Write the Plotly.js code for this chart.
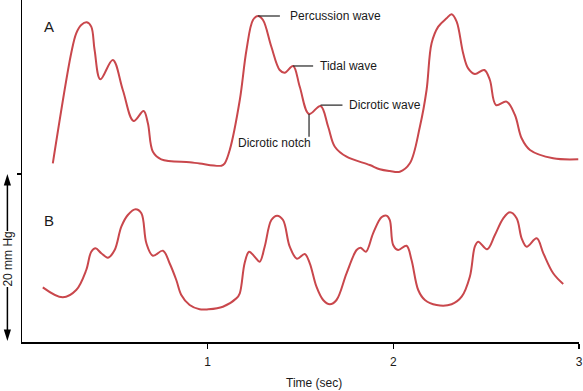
<!DOCTYPE html>
<html>
<head>
<meta charset="utf-8">
<script src="https://cdn.plot.ly/plotly-3.0.1.min.js"></script>
<style>html,body{margin:0;padding:0;background:#fff;}#chart{width:583px;height:391px;}</style>
</head>
<body>
<div id="chart"></div>
<script>
// Trace A (time in sec, pressure in mm Hg above baseline)
var timeA = [0.166,0.265,0.292,0.319,0.349,0.373,0.391,0.422,0.489,0.543,0.601,0.655,0.678,0.705,0.750,0.903,0.957,1.074,1.092,1.119,1.173,1.209,1.244,1.271,1.298,1.343,1.388,1.415,1.460,1.496,1.546,1.608,1.649,1.685,1.748,1.873,1.927,1.981,2.035,2.089,2.143,2.179,2.206,2.242,2.287,2.314,2.341,2.376,2.403,2.439,2.490,2.520,2.553,2.610,2.655,2.691,2.736,2.861,2.996];
var pressA = [21.27,34.37,36.75,37.74,38.06,37.54,34.76,31.27,33.57,30.00,26.31,27.50,26.04,22.65,21.75,21.40,21.25,20.99,21.27,22.86,28.81,34.76,38.33,38.81,38.33,35.15,32.38,32.06,32.86,30.39,27.14,28.10,25.63,23.25,22.06,21.07,20.56,20.35,20.27,21.27,25.63,30.00,35.56,37.54,38.54,39.01,38.13,34.37,32.58,31.90,32.38,31.19,28.21,28.61,27.02,24.25,22.86,21.87,21.75];
// Trace B
var timeB = [0.112,0.220,0.292,0.346,0.373,0.396,0.427,0.463,0.499,0.535,0.570,0.612,0.643,0.670,0.705,0.759,0.795,0.831,0.858,0.903,0.957,1.002,1.082,1.155,1.173,1.199,1.223,1.253,1.280,1.307,1.343,1.374,1.406,1.442,1.481,1.523,1.550,1.586,1.622,1.658,1.694,1.748,1.802,1.823,1.852,1.891,1.936,1.963,1.981,1.999,2.026,2.071,2.098,2.134,2.170,2.233,2.314,2.368,2.412,2.439,2.457,2.505,2.547,2.592,2.628,2.664,2.691,2.718,2.772,2.808,2.861,2.915];
var pressB = [6.51,5.32,6.19,8.57,10.75,11.15,10.56,10.04,10.95,13.73,15.12,15.80,15.32,11.75,10.27,10.87,9.37,7.38,5.60,4.40,3.89,3.89,4.20,5.20,5.80,9.37,10.75,10.15,9.56,11.35,14.52,15.04,14.52,11.35,9.92,10.48,9.37,6.58,5.00,4.49,5.00,8.18,10.95,11.23,10.75,12.94,14.85,15.04,14.52,11.55,10.95,11.46,9.76,6.19,5.00,4.40,4.49,5.39,7.77,11.35,11.94,11.04,12.74,14.73,15.44,14.73,12.35,11.35,12.35,10.56,8.18,6.90];

var xTicks = [1, 2, 3];
var xTickText = ['1', '2', '3'];
var scaleTick = [20];

var waveLabels = ['Percussion wave', 'Tidal wave', 'Dicrotic wave', 'Dicrotic notch'];
var waveTime = [1.271, 1.460, 1.608, 1.546];
var wavePress = [38.81, 32.86, 28.2, 27.14];

var FONT = '"Liberation Sans", Arial, Helvetica, sans-serif';
var RED = '#c9474c';
var INK = '#1a1a1a';
var L = 22, R = 4, T = 0, B = 49, W = 583, H = 391;
var PW = W - L - R, PH = H - T - B;
function px(xp) { return (xp - L) / PW; }
function py(yp) { return (PH + T - yp) / PH; }

var traces = [
  {x: timeA, y: pressA, mode: 'lines', line: {color: RED, width: 2, shape: 'spline', smoothing: 1}, hoverinfo: 'skip'},
  {x: timeB, y: pressB, mode: 'lines', line: {color: RED, width: 2, shape: 'spline', smoothing: 1}, hoverinfo: 'skip'}
];

var lc = '#333';
var shapes = [
  {type: 'line', xref: 'x', yref: 'y', x0: waveTime[0], x1: waveTime[0] + 0.118, y0: wavePress[0], y1: wavePress[0], line: {color: lc, width: 1.3}},
  {type: 'line', xref: 'x', yref: 'y', x0: waveTime[1], x1: waveTime[1] + 0.108, y0: wavePress[1], y1: wavePress[1], line: {color: lc, width: 1.3}},
  {type: 'line', xref: 'x', yref: 'y', x0: waveTime[2], x1: waveTime[2] + 0.118, y0: wavePress[2], y1: wavePress[2], line: {color: lc, width: 1.3}},
  {type: 'line', xref: 'x', yref: 'y', x0: waveTime[3], x1: waveTime[3], y0: wavePress[3], y1: wavePress[3] - 2.7, line: {color: lc, width: 1.3}},
  {type: 'line', xref: 'paper', yref: 'paper', x0: px(7.4), x1: px(7.4), y0: py(184), y1: py(231), line: {color: '#000', width: 1.5}},
  {type: 'line', xref: 'paper', yref: 'paper', x0: px(7.4), x1: px(7.4), y0: py(287), y1: py(331), line: {color: '#000', width: 1.5}},
  {type: 'path', xref: 'paper', yref: 'paper',
   path: 'M ' + px(7.4) + ' ' + py(174) + ' L ' + px(3.8) + ' ' + py(185.5) + ' L ' + px(11.0) + ' ' + py(185.5) + ' Z',
   fillcolor: '#000', line: {width: 0}},
  {type: 'path', xref: 'paper', yref: 'paper',
   path: 'M ' + px(7.4) + ' ' + py(341) + ' L ' + px(3.8) + ' ' + py(329.5) + ' L ' + px(11.0) + ' ' + py(329.5) + ' Z',
   fillcolor: '#000', line: {width: 0}}
];

var annotations = [
  {xref: 'x', yref: 'y', x: waveTime[0] + 0.163, y: wavePress[0], text: waveLabels[0], showarrow: false, xanchor: 'left', yanchor: 'middle', font: {family: FONT, size: 12, color: INK}},
  {xref: 'x', yref: 'y', x: waveTime[1] + 0.135, y: wavePress[1], text: waveLabels[1], showarrow: false, xanchor: 'left', yanchor: 'middle', font: {family: FONT, size: 12, color: INK}},
  {xref: 'x', yref: 'y', x: waveTime[2] + 0.143, y: wavePress[2], text: waveLabels[2], showarrow: false, xanchor: 'left', yanchor: 'middle', font: {family: FONT, size: 12, color: INK}},
  {xref: 'x', yref: 'y', x: 1.361, y: 23.65, text: waveLabels[3], showarrow: false, xanchor: 'center', yanchor: 'middle', font: {family: FONT, size: 12, color: INK}},
  {xref: 'x', yref: 'y', x: 0.1454, y: 37.54, text: 'A', showarrow: false, xanchor: 'center', yanchor: 'middle', font: {family: FONT, size: 15, color: INK}},
  {xref: 'x', yref: 'y', x: 0.1454, y: 14.52, text: 'B', showarrow: false, xanchor: 'center', yanchor: 'middle', font: {family: FONT, size: 15, color: INK}},
  {xref: 'paper', yref: 'paper', x: px(314), y: py(383.5), text: 'Time (sec)', showarrow: false, xanchor: 'center', yanchor: 'middle', font: {family: FONT, size: 12, color: INK}},
  {xref: 'paper', yref: 'paper', x: px(7.6), y: py(259), text: '20 mm Hg', textangle: -90, showarrow: false, xanchor: 'center', yanchor: 'middle', font: {family: FONT, size: 12, color: INK}}
];

var layout = {
  width: W, height: H,
  margin: {l: L, r: R, t: T, b: B, pad: 0},
  paper_bgcolor: '#fff', plot_bgcolor: '#fff',
  showlegend: false,
  xaxis: {range: [0, 3], showgrid: false, zeroline: false, showline: true, linecolor: '#000', linewidth: 1.5,
          tickmode: 'array', tickvals: xTicks, ticktext: xTickText, ticks: 'outside', ticklen: 5, tickwidth: 1.3, tickcolor: '#000',
          ticklabelstandoff: 3,
          tickfont: {family: FONT, size: 12, color: INK}, fixedrange: true},
  yaxis: {range: [0, PH / 8.4], showgrid: false, zeroline: false, showline: true, linecolor: '#000', linewidth: 1.5,
          tickmode: 'array', tickvals: scaleTick, showticklabels: false, ticks: 'outside', ticklen: 4, tickwidth: 1.3, tickcolor: '#000', fixedrange: true},
  shapes: shapes,
  annotations: annotations
};

Plotly.newPlot('chart', traces, layout, {displayModeBar: false, staticPlot: true});
</script>
</body>
</html>
